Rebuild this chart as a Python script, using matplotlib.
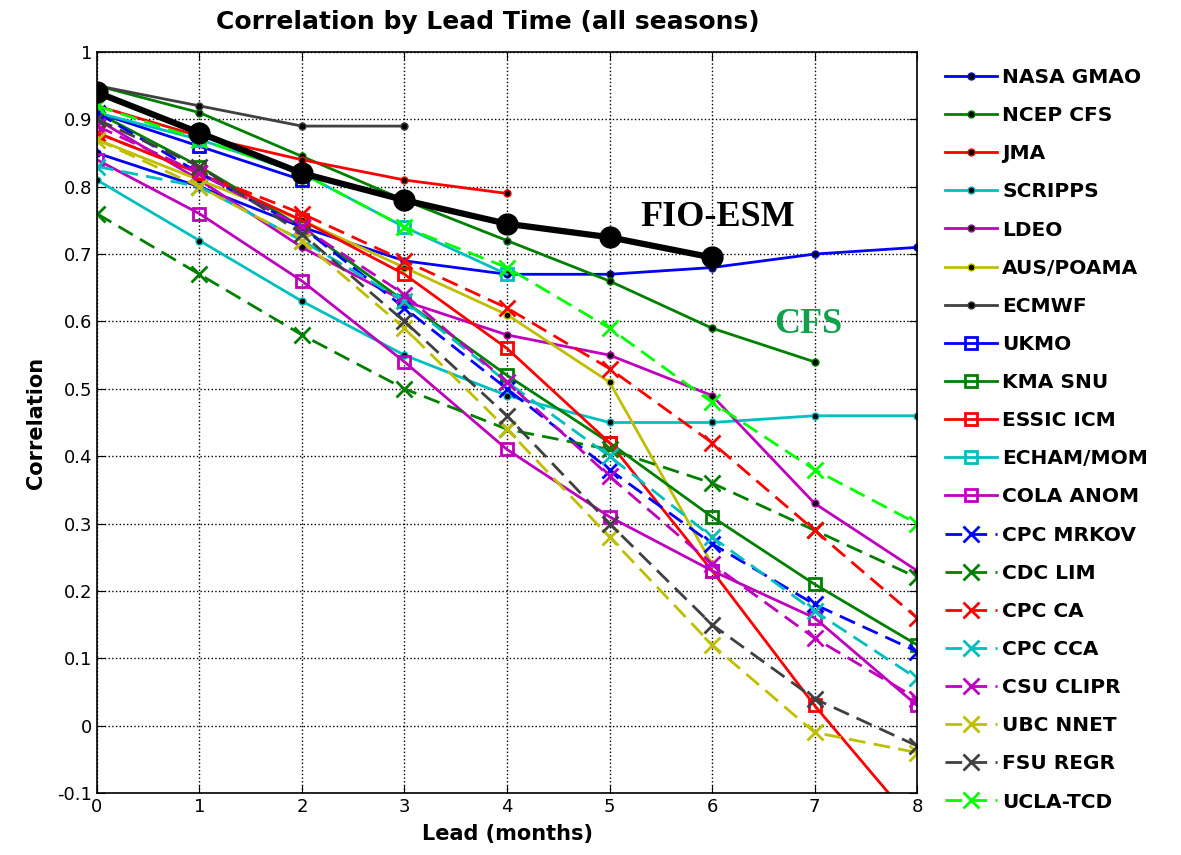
import matplotlib
matplotlib.use("Agg")
import matplotlib.pyplot as plt
from matplotlib.ticker import FormatStrFormatter

# Lead times in months.
leads = [0, 1, 2, 3, 4, 5, 6, 7, 8]

# Correlation of each model, one value per lead (shorter lists stop early).
nasa_gmao = [0.85, 0.80, 0.74, 0.69, 0.67, 0.67, 0.68, 0.70, 0.71]
ncep_cfs = [0.95, 0.91, 0.845, 0.78, 0.72, 0.66, 0.59, 0.54]
jma = [0.92, 0.875, 0.84, 0.81, 0.79]
scripps = [0.81, 0.72, 0.63, 0.55, 0.49, 0.45, 0.45, 0.46, 0.46]
ldeo = [0.90, 0.81, 0.71, 0.63, 0.58, 0.55, 0.49, 0.33, 0.23]
aus_poama = [0.87, 0.81, 0.75, 0.68, 0.61, 0.51, 0.24]
ecmwf = [0.95, 0.92, 0.89, 0.89]
ukmo = [0.91, 0.86, 0.81]
kma_snu = [0.91, 0.83, 0.74, 0.63, 0.52, 0.42, 0.31, 0.21, 0.12]
essic_icm = [0.88, 0.82, 0.75, 0.67, 0.56, 0.42, 0.23, 0.03, -0.15]
echam_mom = [0.91, 0.87, 0.82, 0.74, 0.67]
cola_anom = [0.84, 0.76, 0.66, 0.54, 0.41, 0.31, 0.23, 0.16, 0.03]
cpc_mrkov = [0.91, 0.82, 0.74, 0.62, 0.50, 0.38, 0.27, 0.18, 0.11]
cdc_lim = [0.76, 0.67, 0.58, 0.50, 0.44, 0.41, 0.36, 0.29, 0.22]
cpc_ca = [0.88, 0.82, 0.76, 0.69, 0.62, 0.53, 0.42, 0.29, 0.16]
cpc_cca = [0.83, 0.80, 0.72, 0.63, 0.51, 0.40, 0.28, 0.17, 0.07]
csu_clipr = [0.89, 0.82, 0.74, 0.64, 0.51, 0.37, 0.24, 0.13, 0.04]
ubc_nnet = [0.87, 0.80, 0.72, 0.59, 0.44, 0.28, 0.12, -0.01, -0.04]
fsu_regr = [0.90, 0.83, 0.73, 0.60, 0.46, 0.30, 0.15, 0.04, -0.03]
ucla_tcd = [0.92, 0.87, 0.82, 0.74, 0.68, 0.59, 0.48, 0.38, 0.30]
fio_esm = [0.94, 0.88, 0.82, 0.78, 0.745, 0.725, 0.695]

# MATLAB style colour order.
blue = (0, 0, 1)
green = (0, 0.5, 0)
red = (1, 0, 0)
cyan = (0, 0.75, 0.75)
magenta = (0.75, 0, 0.75)
olive = (0.75, 0.75, 0)
gray = (0.25, 0.25, 0.25)
lime = (0, 1, 0)

dot_series = [
    ("NASA GMAO", nasa_gmao, blue),
    ("NCEP CFS", ncep_cfs, green),
    ("JMA", jma, red),
    ("SCRIPPS", scripps, cyan),
    ("LDEO", ldeo, magenta),
    ("AUS/POAMA", aus_poama, olive),
    ("ECMWF", ecmwf, gray),
]
square_series = [
    ("UKMO", ukmo, blue),
    ("KMA SNU", kma_snu, green),
    ("ESSIC ICM", essic_icm, red),
    ("ECHAM/MOM", echam_mom, cyan),
    ("COLA ANOM", cola_anom, magenta),
]
cross_series = [
    ("CPC MRKOV", cpc_mrkov, blue),
    ("CDC LIM", cdc_lim, green),
    ("CPC CA", cpc_ca, red),
    ("CPC CCA", cpc_cca, cyan),
    ("CSU CLIPR", csu_clipr, magenta),
    ("UBC NNET", ubc_nnet, olive),
    ("FSU REGR", fsu_regr, gray),
    ("UCLA-TCD", ucla_tcd, lime),
]

fig = plt.figure(figsize=(11.81, 8.55), dpi=100)
ax = fig.add_axes([0.0821, 0.0725, 0.6944, 0.8667])

handles = []
for name, vals, col in dot_series:
    h, = ax.plot(leads[:len(vals)], vals, "-", color=col, lw=2,
                 marker="o", ms=5, mfc="k", mec=col, label=name)
    handles.append(h)
for name, vals, col in square_series:
    h, = ax.plot(leads[:len(vals)], vals, "-", color=col, lw=2,
                 marker="s", ms=9, mfc="none", mec=col, mew=2, label=name)
    handles.append(h)
for name, vals, col in cross_series:
    h, = ax.plot(leads[:len(vals)], vals, "--", color=col, lw=2,
                 dashes=(6, 3), marker="x", ms=12, mew=2, label=name)
    handles.append(h)

# FIO-ESM on top.
ax.plot(leads[:len(fio_esm)], fio_esm, "-", color="k", lw=4.5,
        marker="o", ms=15, zorder=10)

ax.text(5.3, 0.754, "FIO-ESM", family="Liberation Serif", fontweight="bold",
        fontsize=26, va="center", ha="left")
ax.text(6.61, 0.595, "CFS", family="Liberation Serif", fontweight="bold",
        fontsize=26, va="center", ha="left", color="#13a04a")

ax.set_xlim(0, 8)
ax.set_ylim(-0.1, 1)
ax.set_xticks(range(9))
ax.set_yticks([-0.1, 0, 0.1, 0.2, 0.3, 0.4, 0.5, 0.6, 0.7, 0.8, 0.9, 1])
ax.yaxis.set_major_formatter(FormatStrFormatter("%g"))
ax.tick_params(labelsize=13, direction="in", length=6, top=True, right=True)
ax.grid(True, linestyle=":", color="k", lw=1)
for s in ax.spines.values():
    s.set_linewidth(1.2)

ax.set_xlabel("Lead (months)", fontsize=15, fontweight="bold", labelpad=6)
ax.set_ylabel("Correlation", fontsize=15, fontweight="bold", labelpad=8)
fig.text(488 / 1181, 1 - 22 / 855, "Correlation by Lead Time (all seasons)",
         fontsize=18, fontweight="bold", ha="center", va="center")

fig.legend(handles=handles, loc="upper left",
           bbox_to_anchor=(945 / 1181, 1 - 68 / 855), frameon=False,
           prop={"size": 14.5, "weight": "bold"}, handlelength=2.6,
           handletextpad=0.25, labelspacing=0.95, borderaxespad=0,
           borderpad=0)

fig.savefig("out.png", dpi=100)
